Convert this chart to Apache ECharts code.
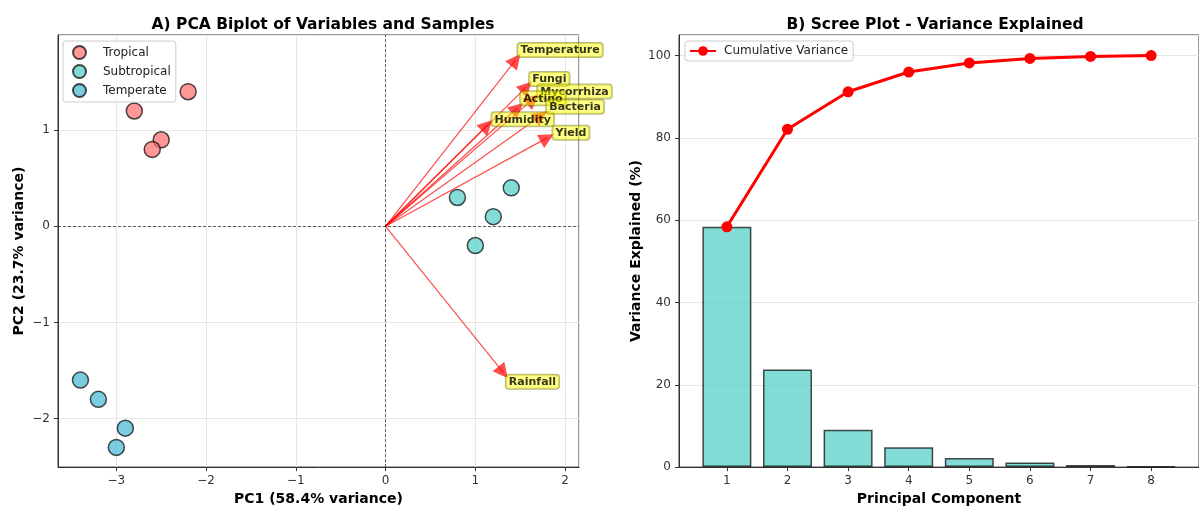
<!DOCTYPE html>
<html>
<head>
<meta charset="utf-8">
<script src="https://cdn.jsdelivr.net/npm/echarts@6/dist/echarts.min.js"></script>
<style>
html,body{margin:0;padding:0;background:#fff;overflow:hidden;}
#c{width:1199px;height:511px;overflow:hidden;}
</style>
</head>
<body>
<div id="c"></div>
<script>
// ---- data ----
const regionNames = ['Tropical', 'Subtropical', 'Temperate'];
const tropicalPts = [[-2.2, 1.4], [-2.8, 1.2], [-2.5, 0.9], [-2.6, 0.8]];
const subtropicalPts = [[0.8, 0.3], [1.4, 0.4], [1.2, 0.1], [1.0, -0.2]];
const temperatePts = [[-3.4, -1.6], [-3.2, -1.8], [-2.9, -2.1], [-3.0, -2.3]];

const variableNames = ['Temperature', 'Rainfall', 'Humidity', 'Yield', 'Fungi', 'Mycorrhiza', 'Actino', 'Bacteria'];
const loadingVectors = [[1.45, 1.73], [1.31, -1.52], [1.13, 1.05], [1.80, 0.92], [1.57, 1.45], [1.64, 1.32], [1.47, 1.23], [1.73, 1.15]];
const labelAnchors = [[1.47, 1.76], [1.34, -1.69], [1.18, 1.04], [1.86, 0.90], [1.60, 1.46], [1.69, 1.33], [1.50, 1.26], [1.79, 1.17]];

const components = [1, 2, 3, 4, 5, 6, 7, 8];
const varianceExplained = [58.4, 23.7, 9.1, 4.8, 2.2, 1.1, 0.5, 0.2];
const cumulativeVariance = [58.4, 82.1, 91.2, 96.0, 98.2, 99.3, 99.8, 100.0];

const pcaXTicks = [-3, -2, -1, 0, 1, 2];
const pcaYTicks = [-2, -1, 0, 1];
const screeYTicks = [0, 20, 40, 60, 80, 100];

// ---- helpers ----
const FONT = 'DejaVu Sans';
const minus = v => String(v).replace('-', '\u2212');
const tickFmt = ticks => v => {
  const hit = ticks.find(t => Math.abs(t - v) < 1e-6);
  return hit === undefined ? '' : minus(hit);
};
const regionColors = ['rgba(255,107,107,0.7)', 'rgba(78,205,196,0.7)', 'rgba(69,183,209,0.7)'];
const regionData = [tropicalPts, subtropicalPts, temperatePts];

const chart = echarts.init(document.getElementById('c'), null, {renderer: 'canvas', width: 1199, height: 511});

const axisCommon = {
  axisLine: {onZero: false, lineStyle: {color: '#333', width: 1}},
  axisTick: {show: true, length: 4, lineStyle: {color: '#333'}},
  axisLabel: {color: '#333', fontFamily: FONT, fontSize: 12, showMinLabel: false, showMaxLabel: false},
  nameTextStyle: {fontFamily: FONT, fontWeight: 'bold', fontSize: 14, color: '#000'},
  splitLine: {show: true, lineStyle: {color: '#e6e6e6', width: 1}}
};

const series = [];
regionNames.forEach((name, i) => {
  series.push({
    name: name, type: 'scatter', xAxisIndex: 0, yAxisIndex: 0,
    data: regionData[i], symbol: 'circle', symbolSize: 16, z: 3,
    itemStyle: {color: regionColors[i], borderColor: 'rgba(0,0,0,0.7)', borderWidth: 1.5, opacity: 1}
  });
});
// reference lines at zero
series.push({
  type: 'line', xAxisIndex: 0, yAxisIndex: 0, data: [], silent: true,
  markLine: {
    silent: true, symbol: 'none', label: {show: false},
    lineStyle: {color: '#222', width: 0.7, type: [3, 2]},
    data: [{xAxis: 0}, {yAxis: 0}]
  }
});
// arrows
series.push({
  type: 'lines', coordinateSystem: 'cartesian2d', xAxisIndex: 0, yAxisIndex: 0, z: 4,
  symbol: ['none', 'triangle'], symbolSize: [11, 15],
  lineStyle: {color: 'rgba(255,0,0,0.7)', width: 1.2, opacity: 1},
  itemStyle: {color: 'rgba(255,0,0,0.7)'},
  data: loadingVectors.map(t => ({coords: [[0, 0], t]}))
});
// variable labels
series.push({
  type: 'scatter', xAxisIndex: 0, yAxisIndex: 0, z: 5, symbolSize: 1,
  itemStyle: {color: 'rgba(0,0,0,0)'},
  label: {
    show: true, position: 'inside', align: 'left', verticalAlign: 'bottom',
    formatter: p => p.name,
    fontFamily: FONT, fontWeight: 'bold', fontSize: 11, color: '#000',
    backgroundColor: 'rgba(255,255,0,0.6)', borderColor: 'rgba(90,90,0,0.55)', borderWidth: 1,
    borderRadius: 3, padding: [2, 3, 1, 3]
  },
  labelLayout: {hideOverlap: false},
  data: variableNames.map((n, i) => ({name: n, value: labelAnchors[i]}))
});
// scree bars
series.push({
  name: 'Variance', type: 'bar', xAxisIndex: 1, yAxisIndex: 1, barWidth: 49,
  data: components.map((c, i) => [c, varianceExplained[i]]),
  itemStyle: {color: 'rgba(78,205,196,0.7)', borderColor: 'rgba(0,0,0,0.7)', borderWidth: 1.5}
});
series.push({
  name: 'Cumulative Variance', type: 'line', xAxisIndex: 1, yAxisIndex: 1, z: 5,
  data: components.map((c, i) => [c, cumulativeVariance[i]]),
  symbol: 'circle', symbolSize: 11, showSymbol: true,
  lineStyle: {color: '#ff0000', width: 3},
  itemStyle: {color: '#ff0000'}
});

const option = {
  animation: false,
  backgroundColor: '#fff',
  textStyle: {fontFamily: FONT},
  title: [
    {text: 'A) PCA Biplot of Variables and Samples', left: 318, top: 12, textAlign: 'center',
     textStyle: {fontFamily: FONT, fontWeight: 'bold', fontSize: 15.5, color: '#000'}},
    {text: 'B) Scree Plot - Variance Explained', left: 930, top: 12, textAlign: 'center',
     textStyle: {fontFamily: FONT, fontWeight: 'bold', fontSize: 15.5, color: '#000'}}
  ],
  legend: [
    {data: regionNames, orient: 'vertical', left: 63, top: 41, itemGap: 4,
     icon: 'circle', itemWidth: 13, itemHeight: 13,
     textStyle: {fontFamily: FONT, fontSize: 12, color: '#222', padding: [0, 0, 0, 12]},
     backgroundColor: 'rgba(255,255,255,0.8)', borderColor: '#ccc', borderWidth: 1, borderRadius: 3,
     padding: [4, 5, 4, 9]},
    {data: ['Cumulative Variance'], left: 685, top: 41, itemWidth: 26, itemHeight: 12,
     textStyle: {fontFamily: FONT, fontSize: 12, color: '#222', padding: [0, 0, 0, 3]},
     backgroundColor: 'rgba(255,255,255,0.8)', borderColor: '#ccc', borderWidth: 1, borderRadius: 3,
     padding: [4, 5, 4, 4]}
  ],
  grid: [
    {left: 58, top: 35, width: 521, height: 435, show: true, borderColor: '#333', borderWidth: 1, backgroundColor: 'transparent'},
    {left: 679, top: 35, width: 521, height: 435, show: true, borderColor: '#333', borderWidth: 1, backgroundColor: 'transparent'}
  ],
  xAxis: [
    Object.assign({}, axisCommon, {
      type: 'value', gridIndex: 0, min: -3.65, max: 2.155, splitNumber: 5,
      name: 'PC1 (58.4% variance)', nameLocation: 'middle', nameGap: 24,
      axisLabel: Object.assign({}, axisCommon.axisLabel, {formatter: tickFmt(pcaXTicks), margin: 8})
    }),
    Object.assign({}, axisCommon, {
      type: 'value', gridIndex: 1, min: 0.21, max: 8.79, splitNumber: 8,
      name: 'Principal Component', nameLocation: 'middle', nameGap: 24,
      splitLine: {show: false},
      axisLabel: Object.assign({}, axisCommon.axisLabel, {formatter: tickFmt(components), margin: 8})
    })
  ],
  yAxis: [
    Object.assign({}, axisCommon, {
      type: 'value', gridIndex: 0, min: -2.505, max: 1.99, splitNumber: 5,
      name: 'PC2 (23.7% variance)', nameLocation: 'middle', nameGap: 32,
      axisLabel: Object.assign({}, axisCommon.axisLabel, {formatter: tickFmt(pcaYTicks), margin: 8})
    }),
    Object.assign({}, axisCommon, {
      type: 'value', gridIndex: 1, min: 0, max: 105, interval: 20,
      name: 'Variance Explained (%)', nameLocation: 'middle', nameGap: 36,
      axisLabel: Object.assign({}, axisCommon.axisLabel, {formatter: tickFmt(screeYTicks), margin: 8, showMinLabel: true})
    })
  ],
  series: series
};
chart.setOption(option);
</script>
</body>
</html>
